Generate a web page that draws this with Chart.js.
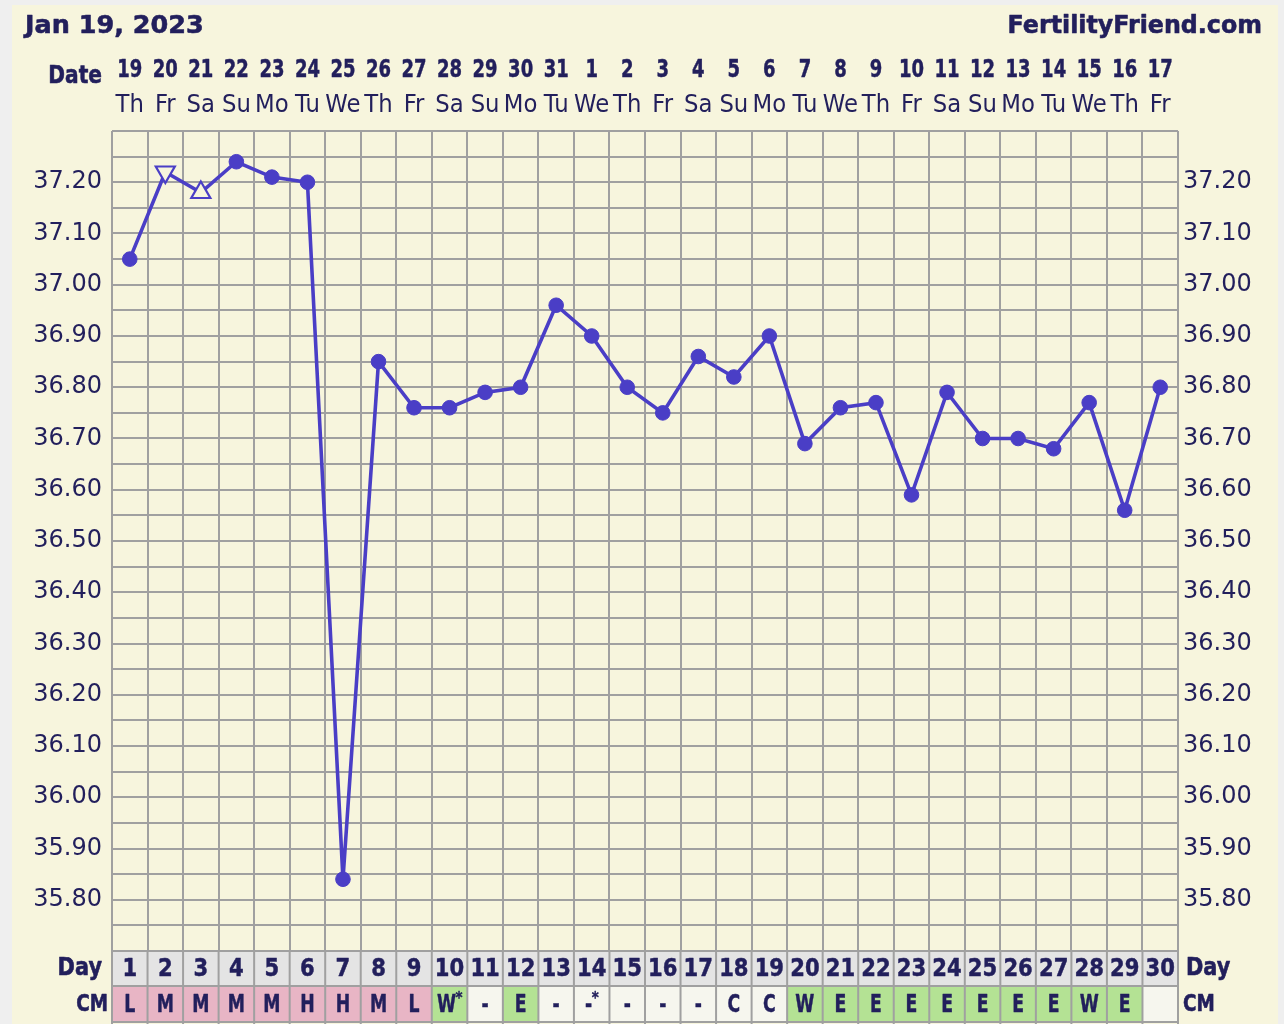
<!DOCTYPE html>
<html>
<head>
<meta charset="utf-8">
<script src="https://cdn.jsdelivr.net/npm/chart.js@4/dist/chart.umd.min.js"></script>
<style>
html,body{margin:0;padding:0;background:#efefef;overflow:hidden;}
#wrap{position:relative;width:1284px;height:1024px;}
</style>
</head>
<body>
<div id="wrap"><canvas id="c"></canvas></div>
<script>
// ---- data ----
const headerDate = 'Jan 19, 2023';
const siteName = 'FertilityFriend.com';
const cycleDays = ['1','2','3','4','5','6','7','8','9','10','11','12','13','14','15','16','17','18','19','20','21','22','23','24','25','26','27','28','29','30'];
const dateLabels = ['19','20','21','22','23','24','25','26','27','28','29','30','31','1','2','3','4','5','6','7','8','9','10','11','12','13','14','15','16','17'];
const dowLabels = ['Th','Fr','Sa','Su','Mo','Tu','We','Th','Fr','Sa','Su','Mo','Tu','We','Th','Fr','Sa','Su','Mo','Tu','We','Th','Fr','Sa','Su','Mo','Tu','We','Th','Fr'];
const temps = [37.05,37.22,37.18,37.24,37.21,37.20,35.84,36.85,36.76,36.76,36.79,36.80,36.96,36.90,36.80,36.75,36.86,36.82,36.90,36.69,36.76,36.77,36.59,36.79,36.70,36.70,36.68,36.77,36.56,36.80];
const markerKinds = ['circle','down','up','circle','circle','circle','circle','circle','circle','circle','circle','circle','circle','circle','circle','circle','circle','circle','circle','circle','circle','circle','circle','circle','circle','circle','circle','circle','circle','circle'];
const cmLabels = ['L','M','M','M','M','H','H','M','L','W*','-','E','-','-*','-','-','-','C','C','W','E','E','E','E','E','E','E','W','E',''];
const yGridValues = [35.70,35.75,35.80,35.85,35.90,35.95,36.00,36.05,36.10,36.15,36.20,36.25,36.30,36.35,36.40,36.45,36.50,36.55,36.60,36.65,36.70,36.75,36.80,36.85,36.90,36.95,37.00,37.05,37.10,37.15,37.20,37.25,37.30];
const yLabelValues = [35.80,35.90,36.00,36.10,36.20,36.30,36.40,36.50,36.60,36.70,36.80,36.90,37.00,37.10,37.20];

// ---- styles ----
const NAVY = '#221f5c';
const BLUE = '#4a3ec6';
const CREAM = '#f7f5dd';
const GRID = '#a0a0a0';
const FONT = "'DejaVu Sans', Verdana, sans-serif";

function cmColor(s){
  const b = s.replace('*','');
  if (b==='L'||b==='M'||b==='H') return '#e8b5c5';
  if (b==='W'||b==='E') return '#b4e294';
  return '#f6f6ee';
}

function txt(ctx, s, x, y, font, align, sx, heavy){
  ctx.save();
  ctx.font = font;
  ctx.textAlign = align;
  ctx.textBaseline = 'alphabetic';
  ctx.fillStyle = NAVY;
  ctx.translate(x, y);
  ctx.scale(sx, 1);
  ctx.fillText(s, 0, 0);
  if (heavy){
    ctx.strokeStyle = NAVY;
    ctx.lineWidth = heavy;
    ctx.lineJoin = 'round';
    ctx.strokeText(s, 0, 0);
  }
  ctx.restore();
}

const yLabelSet = new Set(yLabelValues.map(v => Math.round(v*100)));
function yTickCb(v){
  const c = Math.round(v*100);
  return yLabelSet.has(c) ? (c/100).toFixed(2) : '';
}
function setTicks(scale){ scale.ticks = yGridValues.map(v => ({value: v})); }

const bgPlugin = {
  id: 'bg',
  beforeDraw(chart){
    const ctx = chart.ctx;
    ctx.save();
    ctx.fillStyle = '#efefef';
    ctx.fillRect(0,0,chart.width,chart.height);
    ctx.fillStyle = CREAM;
    ctx.fillRect(12,5,1266,chart.height-5);
    ctx.restore();
  },
  afterDraw(chart){
    const ctx = chart.ctx;
    const xs = chart.scales.x;
    const area = chart.chartArea;
    const n = cycleDays.length;
    const w = (area.right - area.left) / n;

    // header
    txt(ctx, headerDate, 25, 33, "bold 25.5px " + FONT, 'left', 1, 0.6);
    txt(ctx, siteName, 1262, 33, "bold 25px " + FONT, 'right', 0.95, 0.6);

    // date rows
    txt(ctx, 'Date', 102, 83, "bold 24px " + FONT, 'right', 0.84, 0.6);
    for (let i=0;i<n;i++){
      const cx = xs.getPixelForValue(i);
      txt(ctx, dateLabels[i], cx, 76.5, "bold 24px " + FONT, 'center', 0.75, 0.5);
      txt(ctx, dowLabels[i], cx, 111.5, "24.5px " + FONT, 'center', 0.93, 0);
    }

    // bottom rows
    const yTop = area.bottom, yMid = 986, yBot = 1022;
    ctx.save();
    for (let i=0;i<n;i++){
      const x0 = area.left + i*w;
      ctx.fillStyle = '#e4e4e4';
      ctx.fillRect(x0, yTop, w, yMid-yTop);
      ctx.fillStyle = cmColor(cmLabels[i]);
      ctx.fillRect(x0, yMid, w, yBot-yMid);
    }
    ctx.strokeStyle = GRID;
    ctx.lineWidth = 2;
    ctx.beginPath();
    for (let i=0;i<=n;i++){
      const x0 = area.left + i*w;
      ctx.moveTo(x0, yTop); ctx.lineTo(x0, 1024);
    }
    [yTop, yMid, yBot].forEach(y => { ctx.moveTo(area.left-1, y); ctx.lineTo(area.right+1, y); });
    ctx.stroke();
    ctx.restore();

    txt(ctx, 'Day', 102, 975, "bold 24px " + FONT, 'right', 0.87, 0.6);
    txt(ctx, 'Day', 1186, 975, "bold 24px " + FONT, 'left', 0.87, 0.6);
    txt(ctx, 'CM', 108, 1011, "bold 23px " + FONT, 'right', 0.8, 0.6);
    txt(ctx, 'CM', 1183, 1011, "bold 23px " + FONT, 'left', 0.8, 0.6);
    for (let i=0;i<n;i++){
      const cx = xs.getPixelForValue(i);
      txt(ctx, cycleDays[i], cx, 976, "bold 24px " + FONT, 'center', 0.88, 0.5);
      const lab = cmLabels[i];
      if (lab.endsWith('*')){
        const base = lab.slice(0,-1);
        ctx.save(); ctx.font = "bold 24px " + FONT;
        const bw = ctx.measureText(base).width * 0.72;
        ctx.restore();
        txt(ctx, base, cx - 3, 1011.5, "bold 24px " + FONT, 'center', 0.72, 0.5);
        txt(ctx, '*', cx - 3 + bw/2 + 3, 1003, "bold 15px " + FONT, 'center', 0.9, 0.4);
      } else if (lab) {
        txt(ctx, lab, cx, 1011.5, "bold 24px " + FONT, 'center', 0.72, 0.5);
      }
    }
  }
};

const ctx = document.getElementById('c').getContext('2d');
new Chart(ctx, {
  type: 'line',
  data: {
    labels: cycleDays,
    datasets: [{
      data: temps,
      borderColor: BLUE,
      borderWidth: 3.6,
      tension: 0,
      pointStyle: markerKinds.map(k => k==='circle' ? 'circle' : 'triangle'),
      rotation: markerKinds.map(k => k==='down' ? 180 : 0),
      pointRadius: markerKinds.map(k => k==='circle' ? 7.3 : 11),
      pointBackgroundColor: markerKinds.map(k => k==='circle' ? BLUE : CREAM),
      pointBorderColor: BLUE,
      pointBorderWidth: markerKinds.map(k => k==='circle' ? 1 : 2.2),
      clip: false
    }]
  },
  options: {
    responsive: true,
    maintainAspectRatio: false,
    devicePixelRatio: 1,
    animation: false,
    events: [],
    layout: { padding: { top: 131, bottom: 73, left: 0, right: 0 } },
    plugins: { legend: { display: false }, tooltip: { enabled: false }, title: { display: false } },
    scales: {
      x: {
        type: 'category',
        offset: true,
        grid: { offset: true, color: GRID, lineWidth: 2, drawTicks: false },
        border: { display: false },
        ticks: { display: false, autoSkip: false },
        afterFit(s){ s.height = 0; }
      },
      y: {
        position: 'left',
        min: 35.70, max: 37.30,
        grid: { color: GRID, lineWidth: 2, drawTicks: false },
        border: { display: false },
        ticks: { autoSkip: false, padding: 10, color: NAVY, font: { family: FONT, size: 24 }, callback: yTickCb },
        afterBuildTicks: setTicks,
        afterFit(s){ s.width = 112; }
      },
      y2: {
        position: 'right',
        min: 35.70, max: 37.30,
        grid: { display: false, drawTicks: false },
        border: { display: false },
        ticks: { autoSkip: false, padding: 5, color: NAVY, font: { family: FONT, size: 24 }, callback: yTickCb },
        afterBuildTicks: setTicks,
        afterFit(s){ s.width = 106; }
      }
    }
  },
  plugins: [bgPlugin]
});
</script>
</body>
</html>
